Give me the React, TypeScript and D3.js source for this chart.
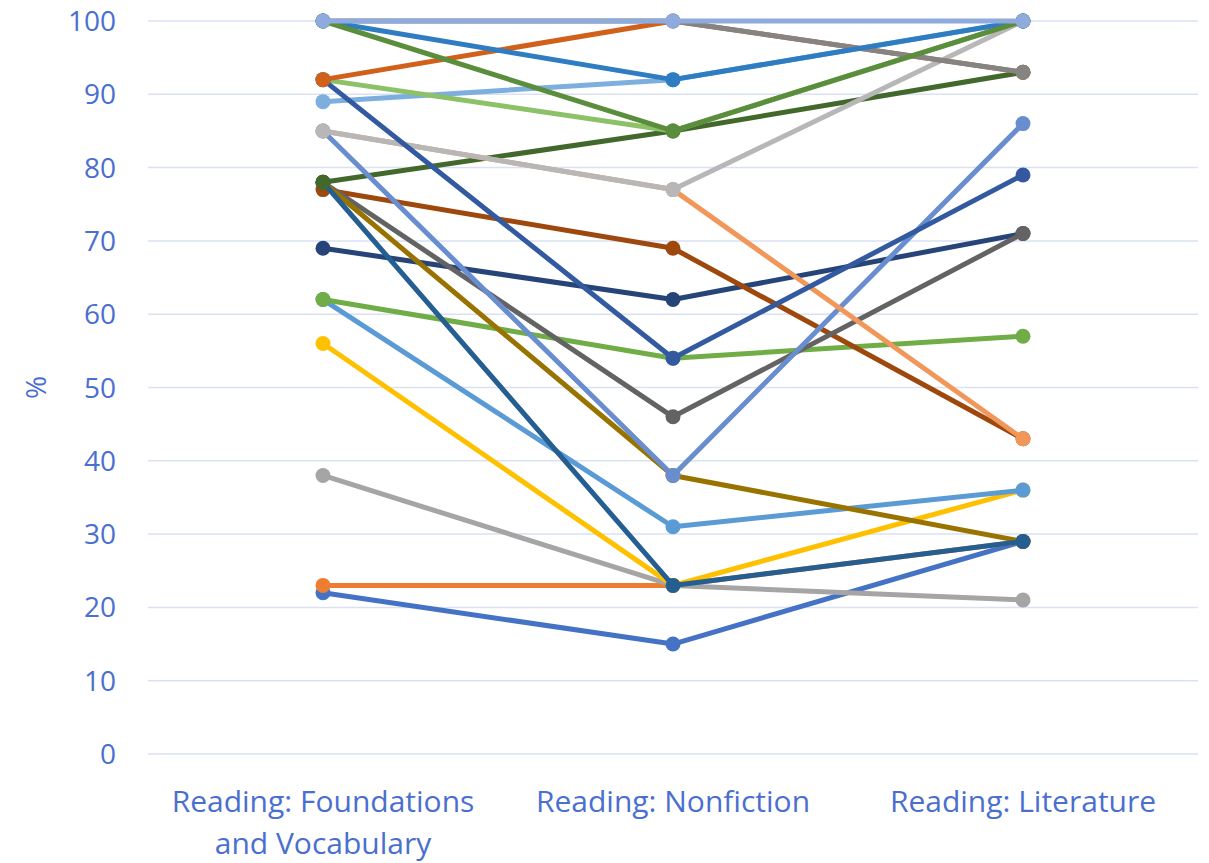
import * as d3 from "d3";

const categories = ["Reading: Foundations and Vocabulary", "Reading: Nonfiction", "Reading: Literature"];
const yTicks = [0, 10, 20, 30, 40, 50, 60, 70, 80, 90, 100];

// one row per series, in drawing order: [Foundations, Nonfiction, Literature]
const seriesValues: number[][] = [
    [22, 15, 29],
    [23, 23, 29],
    [38, 23, 21],
    [56, 23, 36],
    [62, 31, 36],
    [62, 54, 57],
    [69, 62, 71],
    [77, 69, 43],
    [78, 46, 71],
    [78, 38, 29],
    [78, 23, 29],
    [78, 85, 93],
    [85, 38, 86],
    [85, 77, 43],
    [85, 77, 100],
    [89, 92, 100],
    [92, 85, 100],
    [92, 54, 79],
    [92, 100, 93],
    [100, 100, 93],
    [100, 92, 100],
    [100, 85, 100],
    [100, 100, 100],
];

const palette = [
    "#4472C4", "#ED7D31", "#A5A5A5", "#FFC000", "#5B9BD5", "#70AD47",
    "#264478", "#9E480E", "#636363", "#997300", "#255E91", "#43682B",
    "#698ED0", "#F1975A", "#B7B7B7", "#7CAFDD", "#8CC168", "#335AA1",
    "#D0601A", "#848484", "#2E7CC2", "#5A8E3C", "#8FAADC",
];

const width = 1209;
const height = 863;
const textColor = "#4A6FCF";
const font = "'Open Sans', 'Noto Sans', sans-serif";

export default function App() {
    const x = d3.scaleBand().domain(categories).range([148, 1198]);
    const y = d3.scaleLinear().domain([0, 100]).range([754, 21]);
    const cx = (c: string) => (x(c) as number) + x.bandwidth() / 2;

    const line = d3.line<number>()
        .x((_, i) => cx(categories[i]))
        .y(d => y(d));

    const wrapped: Record<string, string[]> = {
        "Reading: Foundations and Vocabulary": ["Reading: Foundations", "and Vocabulary"],
    };

    return (
        <svg width={width} height={height} style={{ position: "absolute", left: 0, top: 0 }} fontFamily={font}>
            {/* grid */}
            {yTicks.map(t => (
                <line key={t} x1={148} x2={1198} y1={y(t)} y2={y(t)} stroke="#D9E1F2" strokeWidth={1.5} />
            ))}
            {/* y tick labels */}
            {yTicks.map(t => (
                <text key={t} x={116} y={y(t)} dy="0.36em" textAnchor="end" fontSize={28} fill={textColor}>{t}</text>
            ))}
            <text transform={`translate(36,${y(50)}) rotate(-90)`} textAnchor="middle" dy="0.36em" fontSize={28} fill={textColor}>%</text>
            {/* category labels */}
            {categories.map(c => {
                const lines = wrapped[c] || [c];
                return (
                    <text key={c} x={cx(c)} y={812} textAnchor="middle" fontSize={30} fill={textColor}>
                        {lines.map((l, i) => (
                            <tspan key={i} x={cx(c)} dy={i === 0 ? 0 : 42}>{l}</tspan>
                        ))}
                    </text>
                );
            })}
            {/* series */}
            {seriesValues.map((vals, si) => (
                <g key={si}>
                    <path d={line(vals) || ""} fill="none" stroke={palette[si]} strokeWidth={5} strokeLinejoin="round" />
                    {vals.map((v, i) => (
                        <circle key={i} cx={cx(categories[i])} cy={y(v)} r={7.5} fill={palette[si]} />
                    ))}
                </g>
            ))}
        </svg>
    );
}
